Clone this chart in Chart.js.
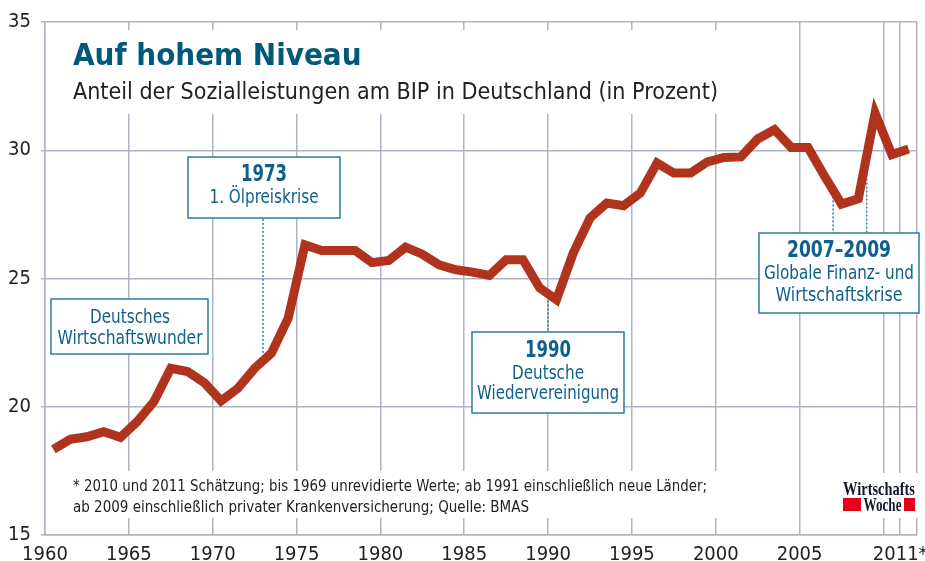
<!DOCTYPE html>
<html>
<head>
<meta charset="utf-8">
<script src="https://cdn.jsdelivr.net/npm/chart.js@4"></script>
<style>
  html, body { margin: 0; padding: 0; background: #fff; }
</style>
</head>
<body>
<canvas id="chart" width="925" height="561"></canvas>
<script>
// Sozialleistungsquote, Deutschland (in Prozent des BIP)
const years = [
  1960, 1961, 1962, 1963, 1964, 1965, 1966, 1967, 1968, 1969,
  1970, 1971, 1972, 1973, 1974, 1975, 1976, 1977, 1978, 1979,
  1980, 1981, 1982, 1983, 1984, 1985, 1986, 1987, 1988, 1989,
  1990, 1991, 1992, 1993, 1994, 1995, 1996, 1997, 1998, 1999,
  2000, 2001, 2002, 2003, 2004, 2005, 2006, 2007, 2008, 2009,
  2010, 2011,
];
const shares = [
  18.34, 18.73, 18.83, 19.03, 18.81, 19.42, 20.20, 21.50, 21.37, 20.94,
  20.23, 20.72, 21.50, 22.09, 23.45, 26.31, 26.09, 26.09, 26.09, 25.62,
  25.70, 26.22, 25.95, 25.53, 25.34, 25.25, 25.12, 25.73, 25.73, 24.63,
  24.17, 25.99, 27.36, 27.94, 27.84, 28.33, 29.50, 29.11, 29.11, 29.55,
  29.72, 29.74, 30.44, 30.80, 30.11, 30.11, 28.98, 27.90, 28.11, 31.45,
  29.83, 30.05,
];

const xTicks = [1960, 1965, 1970, 1975, 1980, 1985, 1990, 1995, 2000, 2005, 2010, 2011, 2012];
const xLabels = ['1960', '1965', '1970', '1975', '1980', '1985', '1990', '1995', '2000', '2005', '', '2011*', ''];
const yTicks = [15, 20, 25, 30, 35];

// markers: year of the dotted line and the level where it meets the curve
const markerYears = [1973, 1990, 2007, 2009];
const markerLevels = [22.1, 24.3, 28.2, 29.05];

const titleText = 'Auf hohem Niveau';
const subtitleText = 'Anteil der Sozialleistungen am BIP in Deutschland (in Prozent)';
const footnoteLines = [
  '* 2010 und 2011 Schätzung; bis 1969 unrevidierte Werte; ab 1991 einschließlich neue Länder;',
  'ab 2009 einschließlich privater Krankenversicherung; Quelle: BMAS',
];

const FONT = "'Liberation Sans Narrow', 'DejaVu Sans Condensed', 'Roboto Condensed', Roboto, sans-serif";
const GRID = '#b0b4c5';
const BLUE = '#0d5f8c';
const BOX = '#2b7ca3';
const LINE = '#b0341d';

function txt(ctx, s, x, y, font, color, align, maxW) {
  ctx.font = font;
  ctx.fillStyle = color;
  ctx.textAlign = align;
  ctx.textBaseline = 'alphabetic';
  if (maxW && ctx.measureText(s).width > maxW) ctx.fillText(s, x, y, maxW);
  else ctx.fillText(s, x, y);
}

function box(ctx, x, y, w, h) {
  ctx.fillStyle = '#fff';
  ctx.fillRect(x, y, w, h);
  ctx.strokeStyle = BOX;
  ctx.lineWidth = 1.5;
  ctx.strokeRect(x, y, w, h);
}

function dotted(ctx, px, y0, y1) {
  ctx.save();
  ctx.strokeStyle = BOX;
  ctx.lineWidth = 1.5;
  ctx.setLineDash([2, 2]);
  ctx.beginPath();
  ctx.moveTo(px, y0);
  ctx.lineTo(px, y1);
  ctx.stroke();
  ctx.restore();
}

const overlay = {
  id: 'overlay',
  beforeDatasetsDraw(chart) {
    const { ctx } = chart;
    const xs = chart.scales.x, ys = chart.scales.y;
    ctx.save();

    // white panels over the grid
    ctx.fillStyle = '#fff';
    ctx.fillRect(47, 30, 680, 84);
    ctx.fillRect(47, 471, 675, 47);
    ctx.fillRect(832, 473, 88, 45);

    // heading
    txt(ctx, titleText, 73, 65, 'bold 31px ' + FONT, '#00587a', 'left', 289);
    txt(ctx, subtitleText, 73, 99, '23.5px ' + FONT, '#222', 'left', 645);

    // footnote
    txt(ctx, footnoteLines[0], 73, 491, '15px ' + FONT, '#222', 'left', 634);
    txt(ctx, footnoteLines[1], 73, 512, '15px ' + FONT, '#222', 'left', 456);

    // dotted marker lines
    const boxEdges = [218, 332, 233, 233];
    markerYears.forEach((yr, i) => {
      dotted(ctx, xs.getPixelForValue(yr), ys.getPixelForValue(markerLevels[i]), boxEdges[i]);
    });

    // annotation boxes
    box(ctx, 51, 299, 157, 55);
    txt(ctx, 'Deutsches', 130, 323, '19px ' + FONT, BLUE, 'center', 80);
    txt(ctx, 'Wirtschaftswunder', 130, 344, '19px ' + FONT, BLUE, 'center', 145);

    box(ctx, 188, 157, 152, 61);
    txt(ctx, '1973', 264, 181, 'bold 23px ' + FONT, BLUE, 'center', 46);
    txt(ctx, '1. Ölpreiskrise', 264, 203, '19px ' + FONT, BLUE, 'center', 109);

    box(ctx, 472, 332, 152, 81);
    txt(ctx, '1990', 548, 357, 'bold 23px ' + FONT, BLUE, 'center', 46);
    txt(ctx, 'Deutsche', 548, 379, '19px ' + FONT, BLUE, 'center', 72);
    txt(ctx, 'Wiedervereinigung', 548, 399, '19px ' + FONT, BLUE, 'center', 142);

    box(ctx, 759, 233, 160, 80);
    txt(ctx, '2007–2009', 839, 257, 'bold 23px ' + FONT, BLUE, 'center', 104);
    txt(ctx, 'Globale Finanz- und', 839, 279, '19px ' + FONT, BLUE, 'center', 150);
    txt(ctx, 'Wirtschaftskrise', 839, 301, '19px ' + FONT, BLUE, 'center', 127);

    // WirtschaftsWoche logo
    const serif = "'Liberation Serif', 'DejaVu Serif', serif";
    txt(ctx, 'Wirtschafts', 879, 495, 'bold 19px ' + serif, '#101828', 'center', 72);
    ctx.fillStyle = '#e2001a';
    ctx.fillRect(843, 498, 18, 13);
    ctx.fillRect(904, 498, 11, 13);
    txt(ctx, 'Woche', 882.5, 511, 'bold 18px ' + serif, '#101828', 'center', 38);

    ctx.restore();
  },
};

new Chart(document.getElementById('chart'), {
  type: 'line',
  data: {
    datasets: [{
      data: years.map((yr, i) => ({ x: yr + 0.5, y: shares[i] })),
      borderColor: LINE,
      borderWidth: 9,
      pointRadius: 0,
      tension: 0,
      fill: false,
    }],
  },
  options: {
    responsive: false,
    animation: false,
    devicePixelRatio: 1,
    layout: { padding: { top: 22, right: 3, left: 0, bottom: 0 } },
    plugins: { legend: { display: false }, tooltip: { enabled: false } },
    scales: {
      x: {
        type: 'linear',
        min: 1960,
        max: 2012,
        afterBuildTicks: s => { s.ticks = xTicks.map(v => ({ value: v })); },
        afterFit: s => { s.height = 26; },
        grid: { color: GRID, lineWidth: 1.5, drawTicks: false },
        border: { color: GRID, width: 1.5 },
        ticks: {
          autoSkip: false,
          maxRotation: 0,
          padding: 8,
          color: '#222',
          font: { family: FONT, size: 20 },
          callback: v => xLabels[xTicks.indexOf(v)] ?? '',
        },
      },
      y: {
        min: 15,
        max: 35,
        afterBuildTicks: s => { s.ticks = yTicks.map(v => ({ value: v })); },
        afterFit: s => { s.width = 45; },
        grid: { color: GRID, lineWidth: 1.5, tickLength: 4 },
        border: { color: GRID, width: 1.5 },
        ticks: {
          padding: 10,
          color: '#222',
          font: { family: FONT, size: 20 },
        },
      },
    },
  },
  plugins: [overlay],
});
</script>
</body>
</html>
